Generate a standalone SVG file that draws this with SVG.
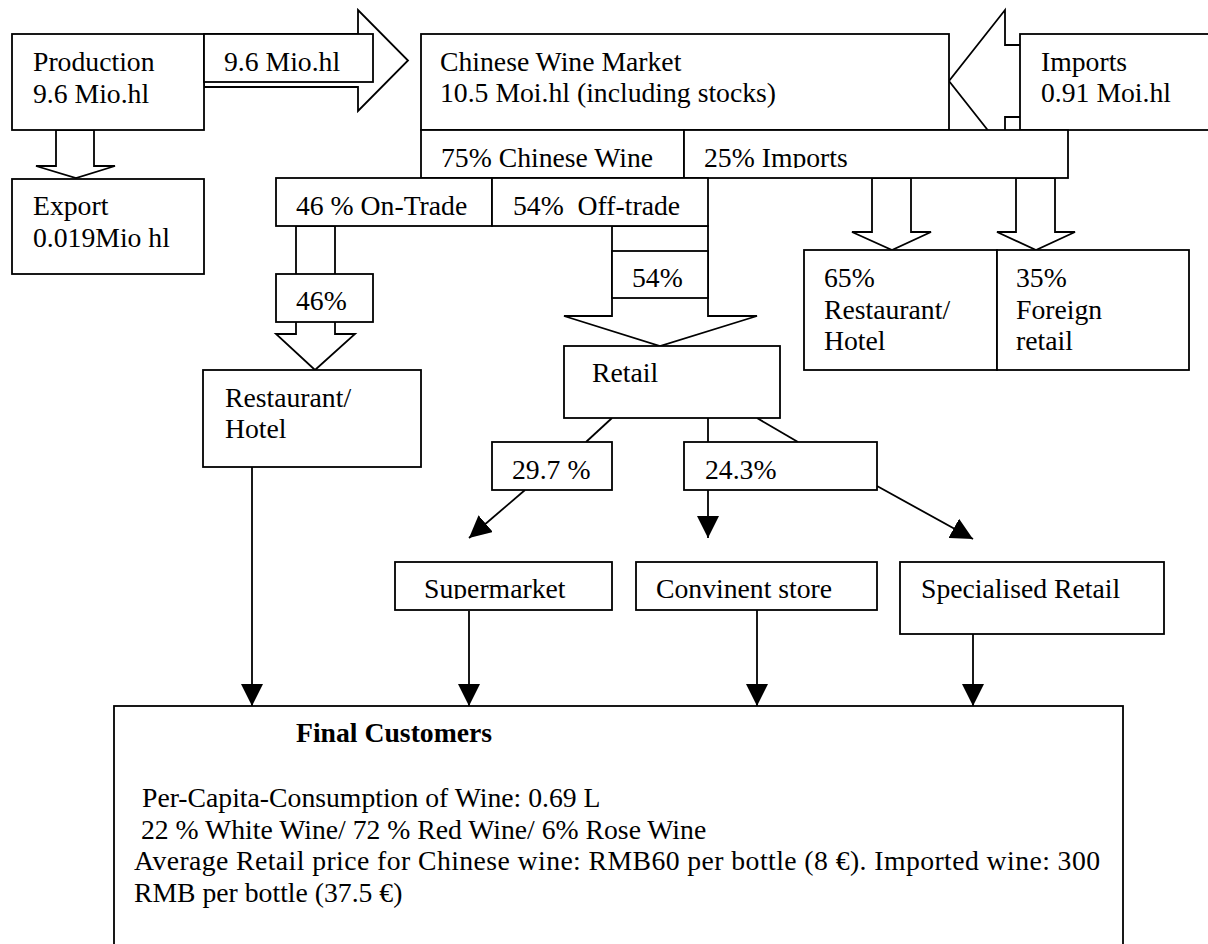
<svg xmlns="http://www.w3.org/2000/svg" width="1208" height="944" viewBox="0 0 1208 944">
<style>
.box{fill:#fff;stroke:#000;stroke-width:1.8}
.blk{fill:#fff;stroke:#000;stroke-width:1.8;stroke-linejoin:miter}
.ln{fill:none;stroke:#000;stroke-width:1.8}
.arr{fill:none;stroke:#000;stroke-width:1.8;marker-end:url(#ah)}
.t{font-family:"Liberation Serif","Times New Roman",serif;font-size:27.7px;fill:#000}
.b{font-weight:bold}
</style>
<defs>
<marker id="ah" markerUnits="userSpaceOnUse" markerWidth="22" markerHeight="22" viewBox="0 0 20 20" refX="20" refY="10" orient="auto">
<path d="M0,0 L20,10 L0,20 Z" fill="#000"/>
</marker>
<clipPath id="c1"><rect x="421" y="130" width="647" height="38"/></clipPath>
<clipPath id="c2"><rect x="395" y="562" width="482" height="37"/></clipPath>
</defs>
<rect width="1208" height="944" fill="#fff"/>
<g id="connectors">
<polygon class="blk" points="204,34 358,34 358,10 408,60.5 358,111 358,87 204,87"/>
<polygon class="blk" points="1030,45 1005,45 1005,10 949,81 1005,152 1005,117 1030,117"/>
<polygon class="blk" points="56,130 56,166 36,166 76,178 115,166 94,166 94,130"/>
<polygon class="blk" points="296,226 296,334 276,334 315,370 355,334 335,334 335,226"/>
<polygon class="blk" points="612,226 612,316 564,316 660,346 757,316 708,316 708,226"/>
<polygon class="blk" points="872,178 872,232 852,232 892,250 931,232 911,232 911,178"/>
<polygon class="blk" points="1016,178 1016,232 997,232 1036,250 1075,232 1055,232 1055,178"/>
<line class="ln" x1="612" y1="418" x2="586" y2="442"/>
<line class="ln" x1="708" y1="418" x2="708" y2="442"/>
<line class="ln" x1="757" y1="418" x2="798" y2="442"/>
<line class="arr" x1="525" y1="490" x2="469" y2="538"/>
<line class="arr" x1="708" y1="490" x2="708" y2="538"/>
<line class="arr" x1="877" y1="486" x2="973" y2="539"/>
<line class="arr" x1="252" y1="467" x2="252" y2="706"/>
<line class="arr" x1="469" y1="611" x2="469" y2="706"/>
<line class="arr" x1="757" y1="610" x2="757" y2="706"/>
<line class="arr" x1="973" y1="634" x2="973" y2="706"/>
</g>
<g id="production">
<rect class="box" x="12" y="34" width="192" height="96"/>
<text class="t" x="33" y="71">Production</text>
<text class="t" x="33" y="103">9.6 Mio.hl</text>
</g>
<g id="flow-label">
<rect class="box" x="204" y="34" width="169" height="48"/>
<text class="t" x="224" y="71">9.6 Mio.hl</text>
</g>
<g id="market">
<rect class="box" x="421" y="34" width="528" height="96"/>
<text class="t" x="440" y="71">Chinese Wine Market</text>
<text class="t" x="440" y="102">10.5 Moi.hl (including stocks)</text>
</g>
<g id="imports">
<rect class="box" x="1020" y="34" width="200" height="96"/>
<text class="t" x="1041" y="71">Imports</text>
<text class="t" x="1041" y="102">0.91 Moi.hl</text>
</g>
<g id="chinese-wine">
<rect class="box" x="421" y="130" width="263" height="48"/>
<text class="t" x="441" y="167" clip-path="url(#c1)">75% Chinese Wine</text>
</g>
<g id="imports-share">
<rect class="box" x="684" y="130" width="384" height="48"/>
<text class="t" x="704" y="167" clip-path="url(#c1)">25% Imports</text>
</g>
<g id="export">
<rect class="box" x="12" y="179" width="192" height="95"/>
<text class="t" x="33" y="215">Export</text>
<text class="t" x="33" y="247">0.019Mio hl</text>
</g>
<g id="on-trade">
<rect class="box" x="276" y="178" width="216" height="48"/>
<text class="t" x="296" y="215">46 % On-Trade</text>
</g>
<g id="off-trade">
<rect class="box" x="492" y="178" width="216" height="48"/>
<text class="t" x="513" y="215" xml:space="preserve">54%  Off-trade</text>
</g>
<g id="on-share">
<rect class="box" x="276" y="274" width="97" height="48"/>
<text class="t" x="296" y="310">46%</text>
</g>
<g id="off-share">
<rect class="box" x="612" y="251" width="96" height="47"/>
<text class="t" x="632" y="287">54%</text>
</g>
<g id="imp-restaurant">
<rect class="box" x="804" y="250" width="193" height="120"/>
<text class="t" x="824" y="287">65%</text>
<text class="t" x="824" y="319">Restaurant/</text>
<text class="t" x="824" y="350">Hotel</text>
</g>
<g id="imp-retail">
<rect class="box" x="997" y="250" width="192" height="120"/>
<text class="t" x="1016" y="287">35%</text>
<text class="t" x="1016" y="319">Foreign</text>
<text class="t" x="1016" y="350">retail</text>
</g>
<g id="restaurant">
<rect class="box" x="203" y="370" width="218" height="97"/>
<text class="t" x="225" y="407">Restaurant/</text>
<text class="t" x="225" y="438">Hotel</text>
</g>
<g id="retail">
<rect class="box" x="564" y="346" width="216" height="72"/>
<text class="t" x="592" y="382">Retail</text>
</g>
<g id="share-297">
<rect class="box" x="492" y="442" width="120" height="48"/>
<text class="t" x="512" y="479">29.7 %</text>
</g>
<g id="share-243">
<rect class="box" x="684" y="442" width="193" height="48"/>
<text class="t" x="705" y="479">24.3%</text>
</g>
<g id="supermarket">
<rect class="box" x="395" y="562" width="217" height="48"/>
<text class="t" x="424" y="598" clip-path="url(#c2)">Supermarket</text>
</g>
<g id="convenient">
<rect class="box" x="636" y="562" width="241" height="48"/>
<text class="t" x="656" y="598" clip-path="url(#c2)">Convinent store</text>
</g>
<g id="specialised">
<rect class="box" x="900" y="562" width="264" height="72"/>
<text class="t" x="921" y="598">Specialised Retail</text>
</g>
<g id="final-customers">
<rect class="box" x="114" y="706" width="1009" height="250"/>
<text class="t b" x="296" y="742">Final Customers</text>
<text class="t" x="142" y="807">Per-Capita-Consumption of Wine: 0.69 L</text>
<text class="t" x="141" y="839">22 % White Wine/ 72 % Red Wine/ 6% Rose Wine</text>
<text class="t" x="134" y="870" textLength="966" lengthAdjust="spacing">Average Retail price for Chinese wine: RMB60 per bottle (8 €). Imported wine: 300</text>
<text class="t" x="134" y="902">RMB per bottle (37.5 €)</text>
</g>
</svg>
